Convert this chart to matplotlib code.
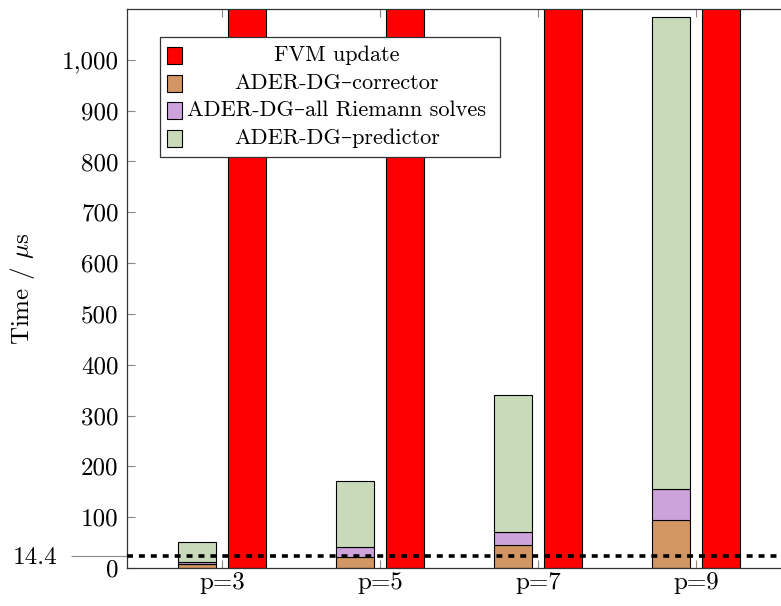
#!/usr/bin/env python3
"""Stacked ADER-DG kernel times vs. FVM update time per polynomial order."""
import numpy as np
import matplotlib
matplotlib.use("Agg")
import matplotlib.pyplot as plt
from matplotlib.patches import Rectangle
from matplotlib.ticker import FuncFormatter

plt.rcParams["font.family"] = ["cmr10", "DejaVu Serif"]
plt.rcParams["mathtext.fontset"] = "cm"
plt.rcParams["axes.unicode_minus"] = False
plt.rcParams["axes.formatter.use_mathtext"] = True

# ---- data -----------------------------------------------------------------
orders = ["p=3", "p=5", "p=7", "p=9"]
corrector = [7, 21, 45, 94]          # ADER-DG corrector
riemann = [5, 20, 25, 61]            # ADER-DG all Riemann solves
predictor = [39, 130, 270, 929]      # ADER-DG predictor
fvm_update = [1500, 1500, 1500, 1500]  # clipped above the axis
threshold_pos = 24                   # dotted reference line
threshold_label = "14.4"

series_labels = ["FVM update", "ADER-DG\u2013corrector",
                 "ADER-DG\u2013all Riemann solves", "ADER-DG\u2013predictor"]
series_colors = ["#ff0000", "#d19664", "#cea2da", "#c8dab9"]

FS = 18

fig = plt.figure(figsize=(7.81, 6.06), dpi=100)
ax = fig.add_axes([0.1626, 0.0627, 0.850, 0.9224])

x = np.arange(len(orders))
w = 0.24
off = 0.16
bottom = np.zeros(len(orders))
for vals, col in zip([corrector, riemann, predictor], series_colors[1:]):
    ax.bar(x - off, vals, w, bottom=bottom, color=col, edgecolor="black",
           linewidth=0.8, zorder=2)
    bottom += np.array(vals)
ax.bar(x + off, fvm_update, w, color=series_colors[0], edgecolor="black",
       linewidth=0.8, zorder=2)

ax.axhline(threshold_pos, color="black", linewidth=2.6, dashes=(1.65, 1.65),
           zorder=3)

ax.set_xlim(-0.6, 3.6)
ax.set_ylim(0, 1100)
ax.set_xticks(x)
ax.set_xticklabels(orders)
ax.set_yticks(np.arange(0, 1001, 100))
ax.yaxis.set_major_formatter(FuncFormatter(lambda v, _: f"{v:,.0f}"))

ax.tick_params(axis="both", which="major", direction="in", length=6,
               width=0.8, color="#888888", labelsize=FS, pad=6)
ax.tick_params(axis="x", top=True, pad=3)
ax.tick_params(axis="y", right=False)

# extra y tick for the reference line
ax.set_yticks([threshold_pos], minor=True)
ax.set_yticklabels([threshold_label], minor=True)
ax.tick_params(axis="y", which="minor", direction="out", length=40,
               width=0.8, color="#888888", labelsize=FS, pad=10)

for s in ax.spines.values():
    s.set_color("#333333")
    s.set_linewidth(0.9)

ax.set_ylabel(r"Time / $\mu$s", fontsize=FS)
ax.yaxis.set_label_coords(-0.1355, 0.5)

# legend drawn by hand so the entries are centred like the original
ax.add_patch(Rectangle((0.0497, 0.7352), 0.512, 0.2147, transform=ax.transAxes,
                       facecolor="white", edgecolor="#333333", linewidth=0.9,
                       zorder=5))
row_y = [0.9177, 0.8676, 0.8193, 0.7692]
for ry, lab, col in zip(row_y, series_labels, series_colors):
    ax.add_patch(Rectangle((0.0603, ry - 0.0152), 0.0226, 0.0304,
                           transform=ax.transAxes, facecolor=col,
                           edgecolor="black", linewidth=0.8, zorder=6))
    ax.text(0.316, ry, lab, transform=ax.transAxes, ha="center", va="center",
            fontsize=16, zorder=6)

fig.savefig("out.png", dpi=100)
